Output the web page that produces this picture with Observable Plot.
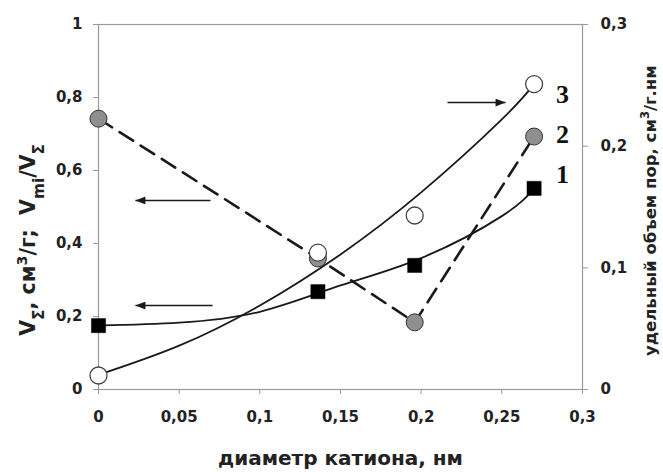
<!DOCTYPE html>
<html>
<head>
<meta charset="utf-8">
<script src="https://cdn.jsdelivr.net/npm/d3@7"></script>
<script src="https://cdn.jsdelivr.net/npm/@observablehq/plot@0.6"></script>
<style>
  html, body { margin: 0; padding: 0; background: #fff; }
</style>
</head>
<body>
<div id="chart"></div>
<script>
// ---- data ----
const xTicks = [0, 0.05, 0.1, 0.15, 0.2, 0.25, 0.3];
const xTickLabels = ["0", "0,05", "0,1", "0,15", "0,2", "0,25", "0,3"];
const leftTicks = [0, 0.2, 0.4, 0.6, 0.8, 1];
const leftTickLabels = ["0", "0,2", "0,4", "0,6", "0,8", "1"];
const rightTicks = [0, 0.1, 0.2, 0.3];
const rightTickLabels = ["0", "0,1", "0,2", "0,3"];
const RIGHT_MAX = 0.3; // right axis 0..0.3 shares the frame with left axis 0..1

const diameter = [0, 0.136, 0.196, 0.27];
const series1 = [0.175, 0.268, 0.34, 0.551];   // squares, left axis
const series2 = [0.742, 0.359, 0.184, 0.693];  // grey circles, left axis
const series3 = [0.0115, 0.1125, 0.143, 0.251]; // open circles, right axis

// trend curves
const trendX = [0, 0.05, 0.1, 0.15, 0.2, 0.25, 0.27];
const trend1 = [0.175, 0.183, 0.213, 0.285, 0.36, 0.475, 0.551];   // left axis
const trend3 = [0.012, 0.036, 0.069, 0.111, 0.162, 0.222, 0.251];  // right axis

const curveNames = ["1", "2", "3"];
const curveNameX = [0.2876, 0.2876, 0.2876];
const curveNameY = [0.588, 0.699, 0.808];

const arrowY = [0.518, 0.23, 0.786];
const arrowFrom = [0.0694, 0.0707, 0.2163];
const arrowTo = [0.0229, 0.0229, 0.2523];

const xLabel = "диаметр катиона, нм";
const leftLabel = "LEFTLABEL";
const rightLabel = "RIGHTLABEL";

// ---- tables ----
const toLeft = v => v / RIGHT_MAX;
const pts1 = diameter.map((x, i) => ({x, y: series1[i]}));
const pts2 = diameter.map((x, i) => ({x, y: series2[i]}));
const pts3 = diameter.map((x, i) => ({x, y: toLeft(series3[i])}));
const tr1 = trendX.map((x, i) => ({x, y: trend1[i]}));
const tr3 = trendX.map((x, i) => ({x, y: toLeft(trend3[i])}));
const names = curveNames.map((t, i) => ({t, x: curveNameX[i], y: curveNameY[i]}));
const arrows = arrowY.map((y, i) => ({x1: arrowFrom[i], x2: arrowTo[i], y}));
const rightTickPos = rightTicks.map(toLeft);

const ink = "#1a1a1a";
const sans = "'DejaVu Sans', 'Liberation Sans', Arial, sans-serif";

const chart = Plot.plot({
  width: 663,
  height: 472,
  marginLeft: 98,
  marginRight: 81,
  marginTop: 24,
  marginBottom: 83,
  x: {domain: [0, 0.3]},
  y: {domain: [0, 1]},
  style: {fontFamily: sans, fontSize: "15px", fontWeight: "bold", color: "#222", background: "#fff"},
  marks: [
    Plot.frame({stroke: "#9a9a9a", strokeWidth: 1.2}),
    Plot.axisX({ticks: xTicks, tickFormat: d => xTickLabels[xTicks.indexOf(d)], tickSize: 5, tickPadding: 17, label: null, stroke: "#9a9a9a", fill: "#222"}),
    Plot.axisY({ticks: leftTicks, tickFormat: d => leftTickLabels[leftTicks.indexOf(d)], tickSize: 5, tickPadding: 11, label: null, stroke: "#9a9a9a", fill: "#222"}),
    Plot.axisY({anchor: "right", ticks: rightTickPos, tickFormat: d => rightTickLabels[rightTickPos.indexOf(d)], tickSize: 5, tickPadding: 13, label: null, stroke: "#9a9a9a", fill: "#222"}),
    Plot.text([xLabel], {x: 0.15, frameAnchor: "bottom", dy: 69, textAnchor: "middle", lineAnchor: "middle", text: d => d, fontSize: 20, fontWeight: "bold", fill: "#222"}),
    Plot.text([leftLabel], {y: 0.41, frameAnchor: "left", dx: -70, textAnchor: "middle", lineAnchor: "middle", rotate: -90, text: d => d, fontSize: 20.5, fontWeight: "bold", fill: "#222"}),
    Plot.text([rightLabel], {y: 0.49, frameAnchor: "right", dx: 68, textAnchor: "middle", lineAnchor: "middle", rotate: -90, text: d => d, fontSize: 16.5, fontWeight: "bold", fill: "#222"}),
    Plot.line(tr1, {x: "x", y: "y", curve: "natural", stroke: ink, strokeWidth: 1.8}),
    Plot.line(tr3, {x: "x", y: "y", curve: "natural", stroke: ink, strokeWidth: 1.8}),
    Plot.line(pts2, {x: "x", y: "y", stroke: ink, strokeWidth: 2.6, strokeDasharray: "16,9"}),
    Plot.link(arrows, {x1: "x1", x2: "x2", y1: "y", y2: "y", stroke: ink, strokeWidth: 1.5}),
    Plot.dot(pts2, {x: "x", y: "y", r: 8.5, fill: "#8f8f8f", stroke: "#333", strokeWidth: 1}),
    Plot.dot(pts3, {x: "x", y: "y", r: 8.5, fill: "#fff", stroke: "#444", strokeWidth: 1.3}),
    Plot.dot(pts1, {x: "x", y: "y", r: 8, symbol: "square", fill: "#000", stroke: "#000", strokeWidth: 0.5}),
    Plot.text(names, {x: "x", y: "y", text: "t", fontFamily: "'Liberation Serif', 'Times New Roman', serif", fontSize: 26, fontWeight: "bold", fill: "#111"})
  ]
});

document.getElementById("chart").appendChild(chart);

// rich text for the rotated axis titles (sub/superscripts)
const svg = d3.select(chart);
function rich(key, parts) {
  svg.selectAll("text").filter(function () { return this.textContent === key; }).each(function () {
    const t = d3.select(this);
    t.text(null).attr("xml:space", "preserve").style("white-space", "pre");
    parts.forEach(([s, kind]) => {
      const sp = t.append("tspan").text(s);
      if (kind === "sub") sp.attr("baseline-shift", "sub").attr("font-size", "0.75em");
      if (kind === "sup") sp.attr("baseline-shift", "super").attr("font-size", "0.7em");
    });
  });
}
rich("LEFTLABEL", [["V"], ["Σ", "sub"], [", см"], ["3", "sup"], ["/г;  V"], ["mi", "sub"], ["/V"], ["Σ", "sub"]]);
rich("RIGHTLABEL", [["удельный объем пор, см"], ["3", "sup"], ["/г.нм"]]);

// filled arrowheads
const defs = svg.append("defs");
defs.append("marker").attr("id", "ahead").attr("viewBox", "0 0 10 8")
  .attr("refX", 10).attr("refY", 4).attr("markerUnits", "userSpaceOnUse")
  .attr("markerWidth", 11).attr("markerHeight", 8).attr("orient", "auto")
  .append("path").attr("d", "M0,0L10,4L0,8z").attr("fill", ink);
svg.selectAll("g[aria-label=link] path").attr("marker-end", "url(#ahead)");
</script>
</body>
</html>
